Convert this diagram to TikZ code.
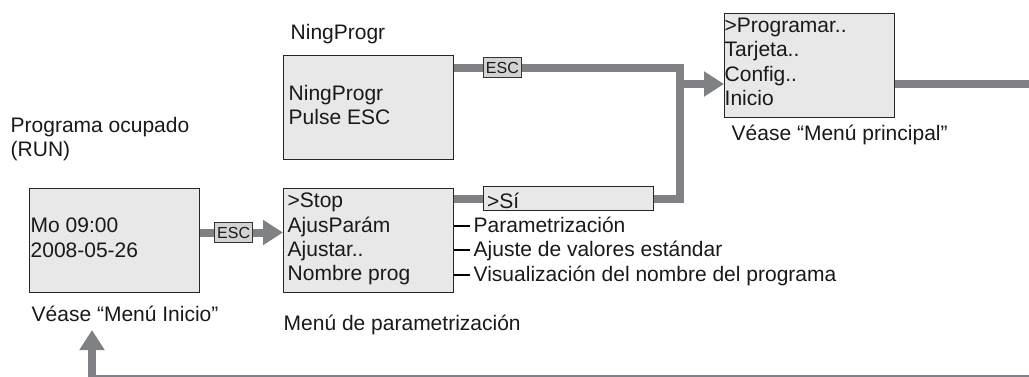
\documentclass[tikz,border=0pt]{standalone}
\usepackage{fontspec}
\setmainfont{Liberation Sans}
\usetikzlibrary{arrows.meta}
\definecolor{lcdfill}{HTML}{E8E8E9}
\definecolor{escfill}{HTML}{D2D2D3}
\definecolor{flowgray}{HTML}{808184}
\begin{document}
\begin{tikzpicture}[
    x=1pt, y=-1pt, font=\fontsize{21}{24.3}\selectfont, text=black!90,
    lcd/.style={draw=black!85, fill=lcdfill, line width=1pt, inner sep=0pt, minimum width=170pt, minimum height=104pt, anchor=north west},
    rows/.style={align=left, inner sep=0pt, anchor=north west},
    lbl/.style={inner sep=0pt, anchor=base west},
    esc/.style={draw=black!80, fill=escfill, text=black!90, line width=0.8pt, inner sep=0pt, minimum width=38pt, minimum height=20pt, font=\fontsize{16}{16}\selectfont},
    flow/.style={line width=8pt, flowgray},
    tip/.style={-{Triangle[length=20pt, width=24pt]}},
    tick/.style={line width=1.5pt, black},
]
  \useasboundingbox (0,0) rectangle (1029,376);
  % screens
  \node[lcd] (busy) at (29,188) {};
  \node[lcd] (npr)  at (283,55) {};
  \node[lcd] (stop) at (283,188) {};
  \node[lcd] (prog) at (724,13) {};
  \node[lcd, minimum height=24pt] (si) at (483,186) {};
  \node[rows] (busy-txt) at (30.5,218) {Mo 09:00\\2008-05-26};
  \node[rows] (npr-txt)  at (288.5,85) {NingProgr\\Pulse ESC};
  \node[rows] (stop-txt) at (287.5,193) {>Stop\\AjusParám\\Ajustar..\\Nombre prog};
  \node[rows] (prog-txt) at (724.5,18) {>Programar..\\Tarjeta..\\Config..\\Inicio};
  \node[lbl] (si-txt) at (487,208) {>Sí};
  % captions
  \node[rows] (busy-title) at (10.5,117) {Programa ocupado\\(RUN)};
  \node[lbl] (npr-title) at (290.5,39) {NingProgr};
  \node[lbl] (busy-see) at (31.5,321) {Véase “Menú Inicio”};
  \node[lbl] (stop-see) at (283.5,330) {Menú de parametrización};
  \node[lbl] (prog-see) at (731.5,140) {Véase “Menú principal”};
  \node[lbl] (par)   at (473.5,232) {Parametrización};
  \node[lbl] (std)   at (473.5,256) {Ajuste de valores estándar};
  \node[lbl] (pname) at (473.5,281) {Visualización del nombre del programa};
  \coordinate (par-tick)   at ([shift={(-4pt,6pt)}]par.base west);
  \coordinate (std-tick)   at ([shift={(-4pt,6pt)}]std.base west);
  \coordinate (pname-tick) at ([shift={(-4pt,6pt)}]pname.base west);
  \draw[tick] (stop.east |- par-tick) -- (par-tick);
  \draw[tick] (stop.east |- std-tick) -- (std-tick);
  \draw[tick] (stop.east |- pname-tick) -- (pname-tick);
  % flow
  \coordinate (join-top) at (680,67.5);
  \coordinate (loop-se) at (1040,379);
  \coordinate (ret-in) at (92,330);
  \coordinate (prog-in) at ([yshift=-18.5pt]prog.west);
  \draw[flow, tip] ([yshift=8pt]busy.east) -- node[esc, pos=0.405] (esc-busy) {ESC} ([yshift=8pt]stop.west);
  \draw[flow] (stop.east |- si.west) -- (si.west);
  \draw[flow] ([yshift=-12.5pt]npr.north east) -- node[esc, pos=0.214] (esc-npr) {ESC} (join-top) |- (si.east);
  \draw[flow, tip] (join-top |- prog-in) -- (prog-in);
  \draw[flow, tip] ([yshift=-18.5pt]prog.east) -| (loop-se) -| (ret-in);
\end{tikzpicture}
\end{document}
